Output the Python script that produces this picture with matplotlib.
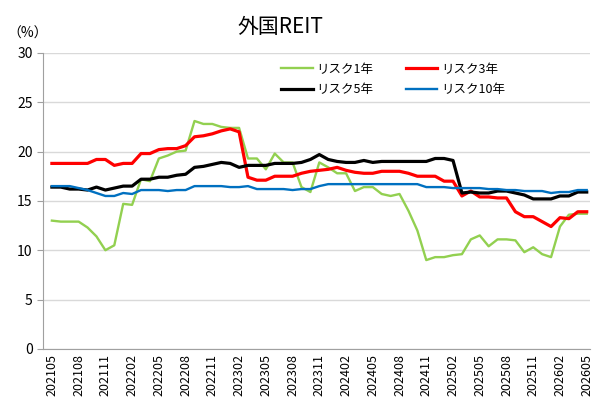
import matplotlib
matplotlib.use('Agg')
import matplotlib.pyplot as plt
import numpy as np

plt.rcParams['font.family'] = ['Noto Sans CJK JP', 'DejaVu Sans']

# 月次 202105 - 202605
months = []
for y in range(2021, 2027):
    for m in range(1, 13):
        ym = '%d%02d' % (y, m)
        if '202105' <= ym <= '202605':
            months.append(ym)

risk1 = [13.0, 12.9, 12.9, 12.9, 12.3, 11.4, 10.0, 10.5, 14.7, 14.6,
         17.2, 17.0, 19.3, 19.6, 20.0, 20.1, 23.1, 22.8, 22.8, 22.5,
         22.4, 22.4, 19.3, 19.3, 18.2, 19.8, 18.9, 18.9, 16.4, 15.9,
         18.9, 18.4, 17.8, 17.8, 16.0, 16.4, 16.4, 15.7, 15.5, 15.7,
         14.0, 12.0, 9.0, 9.3, 9.3, 9.5, 9.6, 11.1, 11.5, 10.4,
         11.1, 11.1, 11.0, 9.8, 10.3, 9.6, 9.3, 12.4, 13.6, 13.7, 13.7]
risk3 = [18.8, 18.8, 18.8, 18.8, 18.8, 19.2, 19.2, 18.6, 18.8, 18.8,
         19.8, 19.8, 20.2, 20.3, 20.3, 20.6, 21.5, 21.6, 21.8, 22.1,
         22.3, 22.0, 17.4, 17.1, 17.1, 17.5, 17.5, 17.5, 17.8, 18.0,
         18.1, 18.2, 18.4, 18.1, 17.9, 17.8, 17.8, 18.0, 18.0, 18.0,
         17.8, 17.5, 17.5, 17.5, 17.0, 17.0, 15.5, 16.0, 15.4, 15.4,
         15.3, 15.3, 13.9, 13.4, 13.4, 12.9, 12.4, 13.3, 13.2, 13.9, 13.9]
risk5 = [16.4, 16.4, 16.2, 16.2, 16.1, 16.4, 16.1, 16.3, 16.5, 16.5,
         17.2, 17.2, 17.4, 17.4, 17.6, 17.7, 18.4, 18.5, 18.7, 18.9,
         18.8, 18.4, 18.6, 18.6, 18.6, 18.8, 18.8, 18.8, 18.9, 19.2,
         19.7, 19.2, 19.0, 18.9, 18.9, 19.1, 18.9, 19.0, 19.0, 19.0,
         19.0, 19.0, 19.0, 19.3, 19.3, 19.1, 15.8, 15.9, 15.8, 15.8,
         16.0, 16.0, 15.8, 15.6, 15.2, 15.2, 15.2, 15.5, 15.5, 15.9, 15.9]
risk10 = [16.5, 16.5, 16.5, 16.3, 16.1, 15.8, 15.5, 15.5, 15.8, 15.7,
          16.1, 16.1, 16.1, 16.0, 16.1, 16.1, 16.5, 16.5, 16.5, 16.5,
          16.4, 16.4, 16.5, 16.2, 16.2, 16.2, 16.2, 16.1, 16.2, 16.2,
          16.5, 16.7, 16.7, 16.7, 16.7, 16.7, 16.7, 16.7, 16.7, 16.7,
          16.7, 16.7, 16.4, 16.4, 16.4, 16.3, 16.3, 16.3, 16.3, 16.2,
          16.2, 16.1, 16.1, 16.0, 16.0, 16.0, 15.8, 15.9, 15.9, 16.1, 16.1]

x = np.arange(len(months))

fig = plt.figure(figsize=(5.97, 4.01), dpi=100)
ax = fig.add_axes([0.072, 0.130, 0.916, 0.738])

l1, = ax.plot(x, risk1, color='#92D050', lw=1.7, label='リスク1年')
l3, = ax.plot(x, risk3, color='#FF0000', lw=2.3, label='リスク3年')
l5, = ax.plot(x, risk5, color='#000000', lw=2.3, label='リスク5年')
l10, = ax.plot(x, risk10, color='#0070C0', lw=1.7, label='リスク10年')

ax.set_ylim(0, 30)
ax.set_yticks(np.arange(0, 31, 5))
ax.set_xlim(-1.0, 60.35)
ax.set_xticks(x[::3])
ax.set_xticklabels(months[::3], rotation=90, fontsize=9)
ax.tick_params(axis='y', labelsize=10, length=4, color='#a0a0a0')
ax.tick_params(axis='x', length=0, pad=4)
ax.yaxis.grid(True, color='#d9d9d9', lw=1)
ax.set_axisbelow(True)
for s in ['top', 'right']:
    ax.spines[s].set_visible(False)
ax.spines['left'].set_color('#a0a0a0')
ax.spines['bottom'].set_color('#a0a0a0')

fig.text(0.469, 0.932, '外国REIT', fontsize=15, ha='center', va='center')
fig.text(0.012, 0.905, '（%）', fontsize=10)

# 行方向に並べる (1年, 3年 / 5年, 10年)
ax.legend([l1, l5, l3, l10], ['リスク1年', 'リスク5年', 'リスク3年', 'リスク10年'],
          ncol=2, loc='upper right', bbox_to_anchor=(0.865, 1.005), frameon=False,
          fontsize=9, handlelength=2.5, handletextpad=0.3, columnspacing=2.6,
          labelspacing=0.6)

fig.savefig('out.png', dpi=100)
